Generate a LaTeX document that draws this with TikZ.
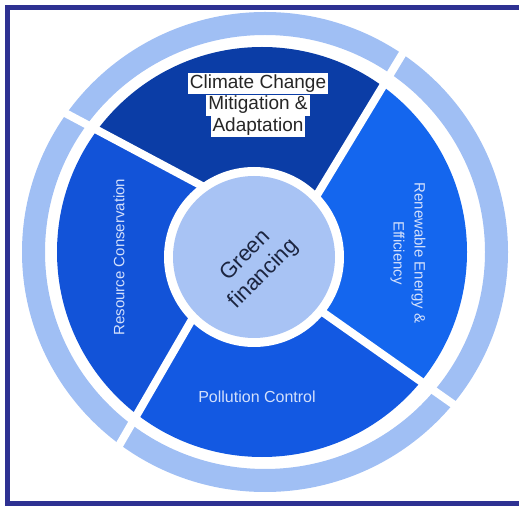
\documentclass[tikz,border=0pt]{standalone}
\usepackage{fontspec}
\setmainfont{Liberation Sans}
\usetikzlibrary{positioning}
\definecolor{navyframe}{HTML}{2E3192}
\definecolor{climblue}{HTML}{0B3DA6}
\definecolor{renewblue}{HTML}{1466EE}
\definecolor{pollblue}{HTML}{1359E2}
\definecolor{resblue}{HTML}{1253D8}
\definecolor{paleblue}{HTML}{A0BFF4}
\definecolor{hubblue}{HTML}{A8C3F4}
\definecolor{inktext}{HTML}{262626}
\definecolor{hubtext}{HTML}{1C2540}
\definecolor{softwhite}{HTML}{D3E0FC}

\begin{document}
\begin{tikzpicture}[x=1pt,y=1pt,
  gap/.style={white,line width=8pt},
  hilite/.style={fill=white,text=inktext,inner xsep=2pt,inner ysep=2pt,text height=13pt,text depth=4pt,font=\fontsize{19}{21}\selectfont},
  side/.style={text=softwhite,align=center,font=\fontsize{15}{21}\selectfont}]
\useasboundingbox (0,0) rectangle (519,506);
\clip (0,0) rectangle (519,506);

\coordinate (o) at (262,254);
\coordinate (hub) at (254,249);
\coordinate (tlin) at (204,319);
\coordinate (tlout) at (52,400);
\coordinate (tlfar) at (-85,472);
\coordinate (trin) at (317,311);
\coordinate (trout) at (406,458);
\coordinate (trfar) at (471,564);
\coordinate (brin) at (321,195);
\coordinate (brout) at (460,97);
\coordinate (brfar) at (552,32);
\coordinate (blin) at (194,190);
\coordinate (blout) at (113,50);
\coordinate (blfar) at (50,-58);

\begin{scope}
\clip (o) circle (205);
\fill[climblue] (o) -- (tlin) -- (tlfar) -- (250,750) -- (trfar) -- (trin) -- cycle;
\fill[renewblue] (o) -- (trin) -- (trfar) -- (750,254) -- (brfar) -- (brin) -- cycle;
\fill[pollblue] (o) -- (brin) -- (brfar) -- (262,-200) -- (blfar) -- (blin) -- cycle;
\fill[resblue] (o) -- (blin) -- (blfar) -- (-250,254) -- (tlfar) -- (tlin) -- cycle;
\end{scope}

\fill[white] (hub) circle (90);
\fill[hubblue] (hub) circle (81);
\fill[paleblue,even odd rule] (265,254) ellipse (243 and 240) (265,254) ellipse (220 and 217);

\draw[gap] (tlin) -- (tlout);
\draw[gap] (trin) -- (trout);
\draw[gap] (brin) -- (brout);
\draw[gap] (blin) -- (blout);

\node[hilite] (clima) at (258,422) {Climate Change};
\node[hilite,below=0pt of clima] (climb) {Mitigation \&};
\node[hilite,below=0pt of climb] (climc) {Adaptation};

\node[text=hubtext,align=center,rotate=45,font=\fontsize{22}{26}\selectfont] (green) at (255,241) {Green\\financing};

\node[side,rotate=-90] (renew) at (408,253) {Renewable Energy \&\\Efficiency};
\node[side,rotate=90] (resource) at (119,249) {Resource Conservation};
\node[side,font=\fontsize{16}{19}\selectfont] (pollution) at (257,109) {Pollution Control};

\draw[navyframe,line width=5pt] (7.5,3) rectangle (540,498.5);
\end{tikzpicture}
\end{document}
